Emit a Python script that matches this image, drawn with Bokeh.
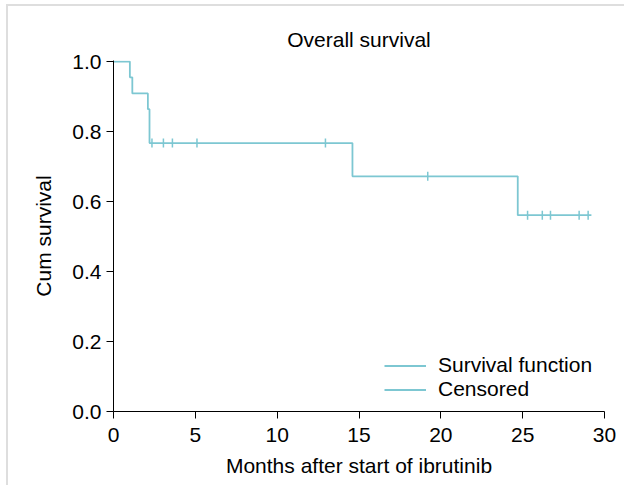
import numpy as np
from bokeh.plotting import figure
from bokeh.models import Range1d, FixedTicker, PrintfTickFormatter, Legend, LegendItem
from bokeh.embed import file_html
from bokeh.resources import INLINE

# Kaplan-Meier steps
event_months = [0.0, 1.0, 1.15, 2.1, 2.2, 14.6, 24.7, 29.2]
survival = [1.0, 0.955, 0.909, 0.864, 0.767, 0.672, 0.561, 0.561]
# censored observations
censor_months = [2.35, 3.05, 3.6, 5.1, 12.95, 19.2, 25.3, 26.2, 26.7, 28.45, 29.0]
censor_survival = [0.767, 0.767, 0.767, 0.767, 0.767, 0.672, 0.561, 0.561, 0.561, 0.561, 0.561]
x_ticks = [0, 5, 10, 15, 20, 25, 30]
y_ticks = [0.0, 0.2, 0.4, 0.6, 0.8, 1.0]

TEAL = "#7dc7d2"
FONT = "Liberation Sans"
FS = "21px"

p = figure(
    frame_width=491, frame_height=351,
    x_range=Range1d(0, 30), y_range=Range1d(0, 1.003),
    min_border_left=105, min_border_right=20, min_border_top=54, min_border_bottom=74,
    output_backend="svg", toolbar_location=None,
    title="Overall survival",
)
p.styles = {"border-left": "2px solid #dedede", "border-top": "2px solid #dedede",
            "margin-left": "6px", "margin-top": "4px"}

p.title.align = "center"
p.title.text_font = FONT
p.title.text_font_size = FS
p.title.text_font_style = "normal"
p.title.text_color = "black"
p.title.standoff = 19

p.xgrid.visible = False
p.ygrid.visible = False
p.outline_line_color = None
p.background_fill_color = "white"
p.border_fill_color = "white"

step_r = p.step(event_months, survival, mode="after", line_color=TEAL, line_width=1.8)
p.scatter(censor_months, censor_survival, marker="dash", angle=np.pi / 2, size=9,
          line_color=TEAL, line_width=1.5)

for ax in (p.xaxis[0], p.yaxis[0]):
    ax.axis_line_color = "black"
    ax.axis_line_width = 1
    ax.major_tick_line_color = "black"
    ax.major_tick_out = 7
    ax.major_tick_in = 0
    ax.minor_tick_line_color = None
    ax.major_label_text_font = FONT
    ax.major_label_text_font_size = FS
    ax.major_label_text_color = "black"
    ax.axis_label_text_font = FONT
    ax.axis_label_text_font_size = FS
    ax.axis_label_text_font_style = "normal"
    ax.axis_label_text_color = "black"

p.xaxis.ticker = FixedTicker(ticks=x_ticks)
p.yaxis.ticker = FixedTicker(ticks=y_ticks)
p.yaxis.formatter = PrintfTickFormatter(format="%.1f")
p.xaxis.axis_label = "Months after start of ibrutinib"
p.yaxis.axis_label = "Cum survival"
p.xaxis.major_label_standoff = 9
p.yaxis.major_label_standoff = 5
p.xaxis.axis_label_standoff = 9
p.yaxis.axis_label_standoff = 14

legend = Legend(
    items=[LegendItem(label="Survival function", renderers=[step_r]),
           LegendItem(label="Censored", renderers=[step_r])],
    location=(271, 10),
    padding=0, margin=0, spacing=-2,
    glyph_width=42, glyph_height=21, label_height=21, label_standoff=12,
    border_line_color=None, background_fill_alpha=0,
    label_text_font=FONT, label_text_font_size=FS, label_text_color="black",
)
p.add_layout(legend, "center")

open("out.html", "w").write(file_html(p, INLINE))
